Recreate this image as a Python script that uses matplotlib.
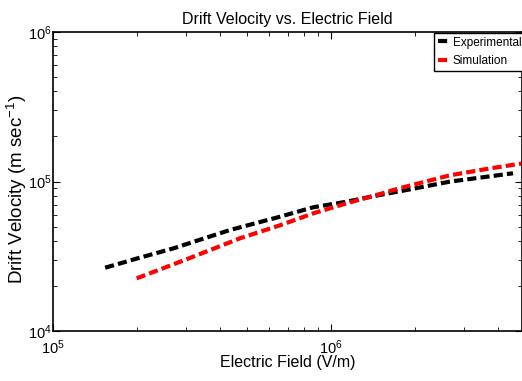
import numpy as np
import matplotlib.pyplot as plt

plt.rcParams['font.family'] = ['Liberation Sans', 'DejaVu Sans']
plt.rcParams['mathtext.fontset'] = 'custom'
plt.rcParams['mathtext.rm'] = 'Liberation Sans'
plt.rcParams['mathtext.it'] = 'Liberation Sans:italic'
plt.rcParams['mathtext.default'] = 'rm'

# values (log-log axes)
exp_field = [1.54e5, 2.0e5, 2.71e5, 4.34e5, 6.57e5, 8.63e5, 1.14e6, 1.5e6, 1.77e6, 2.68e6, 4.52e6]
exp_vel = [2.65e4, 3.05e4, 3.57e4, 4.74e4, 5.82e4, 6.72e4, 7.33e4, 8.13e4, 8.6e4, 9.98e4, 1.135e5]
sim_field = [2.0e5, 3.0e5, 4.71e5, 6.57e5, 8.63e5, 1.14e6, 1.5e6, 1.77e6, 2.68e6, 3.7e6, 4.87e6]
sim_vel = [2.25e4, 3.0e4, 4.17e4, 5.1e4, 6.12e4, 7.15e4, 8.24e4, 9.02e4, 1.10e5, 1.22e5, 1.32e5]

fig = plt.figure(figsize=(5.22, 3.81), dpi=100)
ax = fig.add_axes([53 / 522, 1 - 331 / 381, 469 / 522, 299 / 381])

ax.plot(exp_field, exp_vel, color='black', linestyle='--', dashes=(2.2, 1.0),
        linewidth=3, label='Experimental')
ax.plot(sim_field, sim_vel, color='red', linestyle='--', dashes=(2.2, 1.0),
        linewidth=3, label='Simulation')

ax.set_xscale('log')
ax.set_yscale('log')
ax.set_xlim(1e5, 4.87e6)
ax.set_ylim(1e4, 1e6)

ax.tick_params(which='both', direction='in', top=True, right=True, labelsize=10.5)
ax.tick_params(which='major', length=5)
ax.tick_params(which='minor', length=3)
ax.tick_params(axis='y', pad=1)
ax.tick_params(axis='x', pad=5)
for s in ax.spines.values():
    s.set_linewidth(1.2)

ax.set_title('Drift Velocity vs. Electric Field', fontsize=11.5, pad=6)
ax.set_xlabel('Electric Field (V/m)', fontsize=11.5)
ax.xaxis.set_label_coords(0.5, -0.08)
ax.set_ylabel('Drift Velocity (m sec$^{-1}$)', fontsize=13.5)
ax.yaxis.set_label_coords(-0.052, 0.475)

leg = ax.legend(loc='upper left', bbox_to_anchor=(434 / 522, 1 - 33 / 381),
                bbox_transform=fig.transFigure, borderaxespad=0,
                fontsize=8.5, handlelength=1.0, handletextpad=0.3,
                borderpad=0.3, labelspacing=0.55,
                fancybox=False, framealpha=1, edgecolor='black')
leg.get_frame().set_linewidth(1.0)

fig.savefig('out.png', dpi=100)
